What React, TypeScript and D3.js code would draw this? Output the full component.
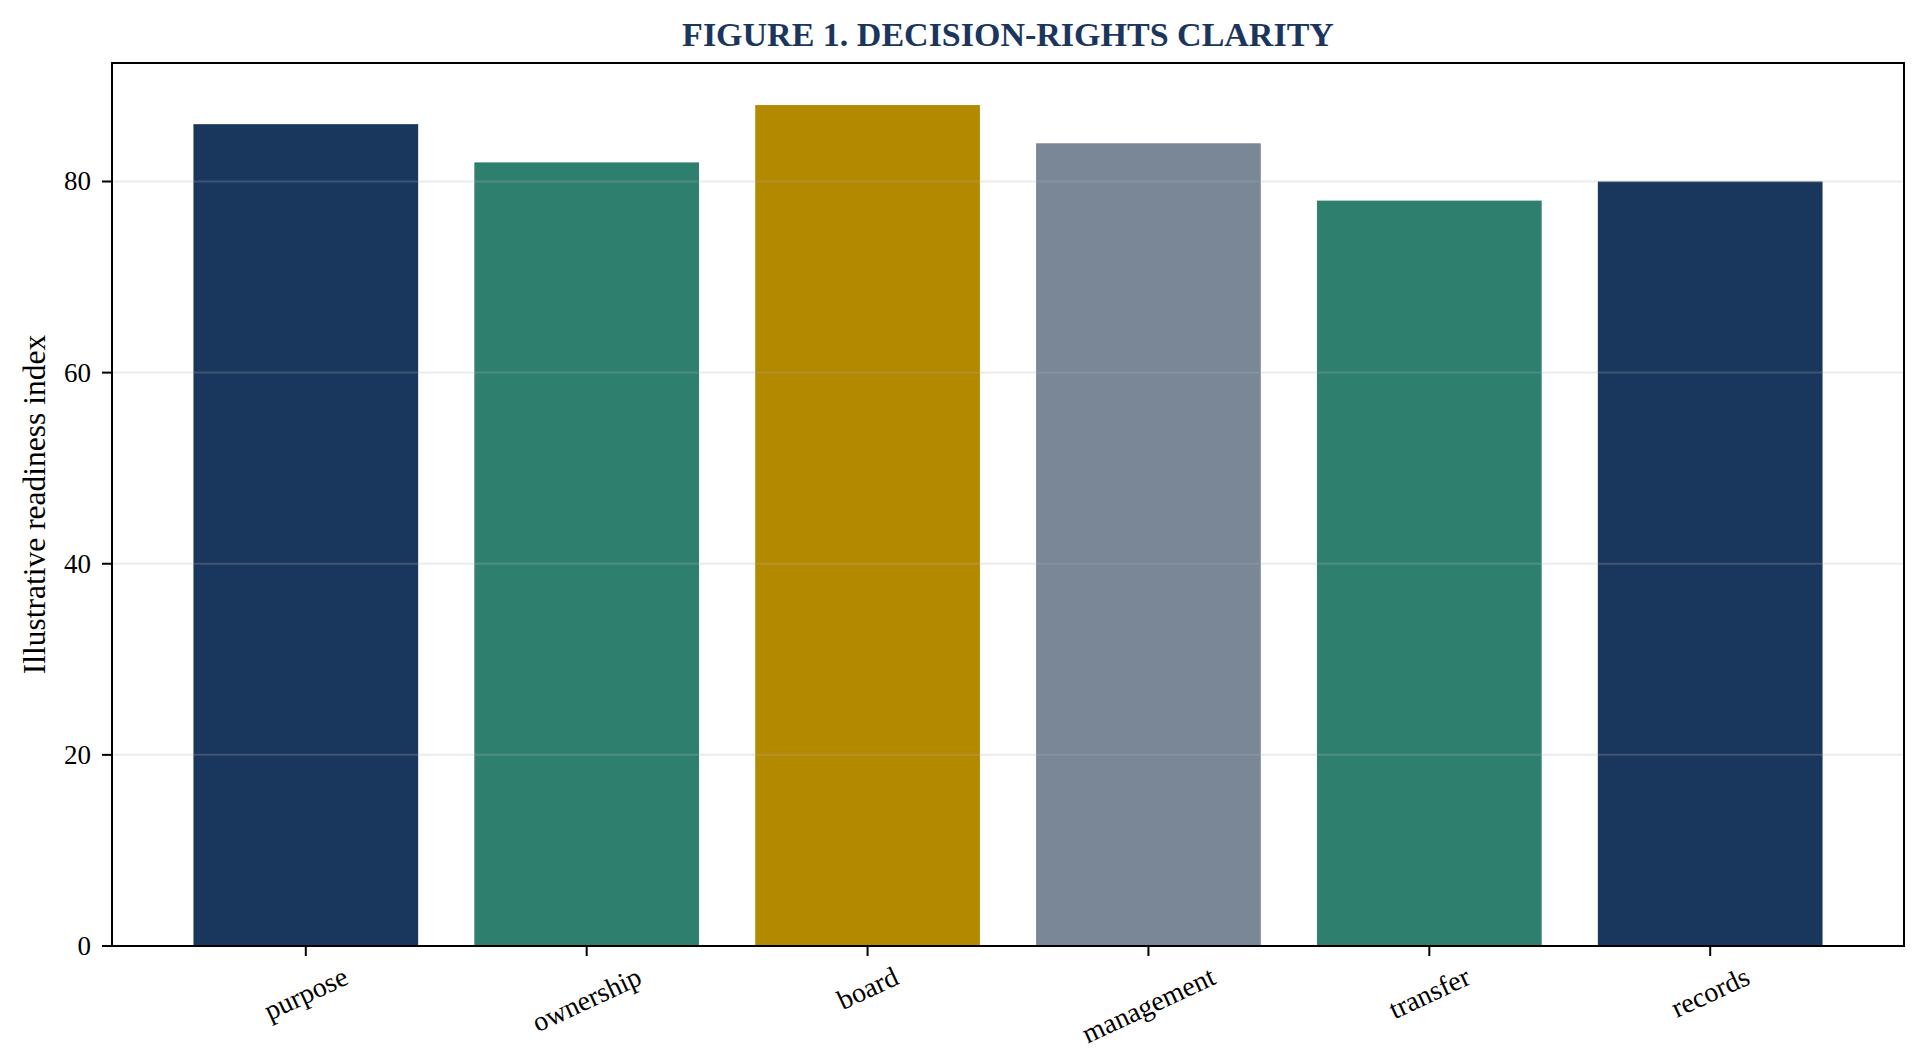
import { useEffect, useRef } from 'react';
import * as d3 from 'd3';

const categories = ['purpose', 'ownership', 'board', 'management', 'transfer', 'records'];
const values = [86, 82, 88, 84, 78, 80];
const barColors = ['#19365d', '#2f7f6f', '#b38900', '#7a8796', '#2f7f6f', '#19365d'];
const yTicks = [0, 20, 40, 60, 80];

const W = 1924;
const H = 1064;
const FONT = '"Liberation Serif", "Times New Roman", serif';

export default function App() {
    const svgRef = useRef<SVGSVGElement>(null);

    useEffect(() => {
        if (!svgRef.current) return;
        document.body.style.margin = '0';

        const svg = d3.select(svgRef.current);
        svg.selectAll('*').remove();

        const left = 112, right = 1904, top = 63, bottom = 946;

        // matplotlib-like limits: 5% margin around bars
        const x = d3.scaleBand<string>()
            .domain(categories)
            .range([left, right])
            .paddingInner(0.2)
            .paddingOuter(0.29);

        const y = d3.scaleLinear()
            .domain([0, d3.max(values)! * 1.05])
            .range([bottom, top]);

        // bars
        svg.append('g')
            .selectAll('rect')
            .data(values)
            .enter()
            .append('rect')
            .attr('x', (_, i) => x(categories[i])!)
            .attr('y', d => y(d))
            .attr('width', x.bandwidth())
            .attr('height', d => bottom - y(d))
            .attr('fill', (_, i) => barColors[i]);

        // grid over bars
        svg.append('g')
            .selectAll('line')
            .data(yTicks.filter(t => t > 0))
            .enter()
            .append('line')
            .attr('x1', left)
            .attr('x2', right)
            .attr('y1', d => y(d))
            .attr('y2', d => y(d))
            .attr('stroke', '#b0b0b0')
            .attr('stroke-opacity', 0.25)
            .attr('stroke-width', 2);

        // frame
        svg.append('rect')
            .attr('x', left)
            .attr('y', top)
            .attr('width', right - left)
            .attr('height', bottom - top)
            .attr('fill', 'none')
            .attr('stroke', '#000')
            .attr('stroke-width', 2);

        // y ticks
        const yt = svg.append('g');
        yTicks.forEach(t => {
            yt.append('line')
                .attr('x1', left - 10).attr('x2', left)
                .attr('y1', y(t)).attr('y2', y(t))
                .attr('stroke', '#000').attr('stroke-width', 2);
            yt.append('text')
                .attr('x', left - 21)
                .attr('y', y(t))
                .attr('text-anchor', 'end')
                .attr('dominant-baseline', 'central')
                .style('font-family', FONT)
                .style('font-size', '27px')
                .text(String(t));
        });

        // x ticks with rotated labels
        const angle = 25;
        const rad = angle * Math.PI / 180;
        const fs = 28;
        const xt = svg.append('g');
        categories.forEach(c => {
            const cx = x(c)! + x.bandwidth() / 2;
            xt.append('line')
                .attr('x1', cx).attr('x2', cx)
                .attr('y1', bottom).attr('y2', bottom + 10)
                .attr('stroke', '#000').attr('stroke-width', 2);
            const t = xt.append('text')
                .attr('text-anchor', 'middle')
                .attr('dominant-baseline', 'central')
                .style('font-family', FONT)
                .style('font-size', `${fs}px`)
                .text(c);
            const w = (t.node() as SVGTextElement).getComputedTextLength();
            const bh = w * Math.sin(rad) + fs * Math.cos(rad);
            const cy = bottom + 10 + 6 + bh / 2;
            t.attr('transform', `translate(${cx},${cy}) rotate(${-angle})`);
        });

        // y label
        svg.append('text')
            .attr('transform', `translate(45,${(top + bottom) / 2}) rotate(-90)`)
            .attr('text-anchor', 'middle')
            .style('font-family', FONT)
            .style('font-size', '31.5px')
            .text('Illustrative readiness index');

        // title
        svg.append('text')
            .attr('x', (left + right) / 2)
            .attr('y', 46)
            .attr('text-anchor', 'middle')
            .style('font-family', FONT)
            .style('font-size', '34px')
            .style('font-weight', 'bold')
            .attr('fill', '#1b365d')
            .text('FIGURE 1. DECISION-RIGHTS CLARITY');
    }, []);

    return <svg ref={svgRef} width={W} height={H} style={{ display: 'block', background: '#fff' }} />;
}
